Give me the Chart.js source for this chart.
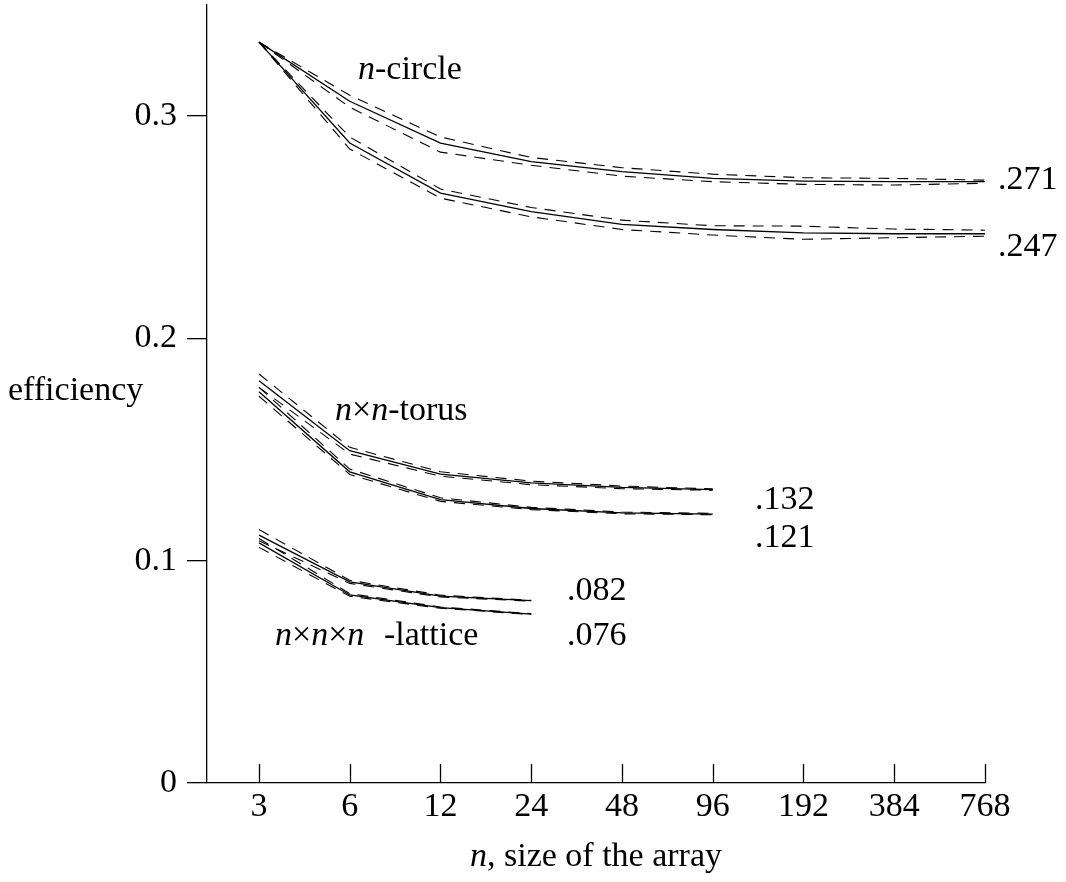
<!DOCTYPE html>
<html><head><meta charset="utf-8">
<script src="https://cdn.jsdelivr.net/npm/chart.js@4"></script>
<style>html,body{margin:0;padding:0;background:#fff}</style>
</head><body>
<canvas id="c" width="1066" height="882"></canvas>
<script>
// ---- data ----
const sizes = ['3','6','12','24','48','96','192','384','768'];
const yTicks = [0, 0.1, 0.2, 0.3];

const circleA   = [0.3333, 0.3067, 0.2879, 0.2795, 0.2750, 0.2720, 0.2708, 0.2705, 0.2705];
const circleAHi = [0.3333, 0.3094, 0.2906, 0.2814, 0.2768, 0.2739, 0.2723, 0.2720, 0.2712];
const circleALo = [0.3333, 0.3040, 0.2838, 0.2779, 0.2730, 0.2705, 0.2693, 0.2690, 0.2698];
const circleB   = [0.3333, 0.2879, 0.2654, 0.2570, 0.2513, 0.2490, 0.2475, 0.2471, 0.2471];
const circleBHi = [0.3333, 0.2906, 0.2672, 0.2589, 0.2532, 0.2507, 0.2505, 0.2492, 0.2487];
const circleBLo = [0.3333, 0.2852, 0.2631, 0.2547, 0.2490, 0.2465, 0.2446, 0.2453, 0.2460];

const torusA   = [0.1810, 0.1495, 0.1390, 0.1350, 0.1330, 0.1320];
const torusAHi = [0.1840, 0.1510, 0.1400, 0.1358, 0.1336, 0.1323];
const torusALo = [0.1780, 0.1480, 0.1380, 0.1342, 0.1324, 0.1317];
const torusB   = [0.1760, 0.1400, 0.1275, 0.1235, 0.1215, 0.1210];
const torusBHi = [0.1780, 0.1412, 0.1283, 0.1240, 0.1219, 0.1213];
const torusBLo = [0.1740, 0.1388, 0.1267, 0.1230, 0.1211, 0.1207];

const latticeA   = [0.1115, 0.0905, 0.0841, 0.0820];
const latticeAHi = [0.1140, 0.0912, 0.0845, 0.0822];
const latticeALo = [0.1090, 0.0898, 0.0837, 0.0818];
const latticeB   = [0.1080, 0.0846, 0.0789, 0.0760];
const latticeBHi = [0.1100, 0.0852, 0.0792, 0.0762];
const latticeBLo = [0.1060, 0.0840, 0.0786, 0.0758];

// ---- chart ----
const FONT = "'Liberation Serif', 'Times New Roman', serif";
const toPts = arr => arr.map((v, i) => ({x: i, y: v}));
function solid(arr){ return {data: toPts(arr), borderColor:'#000', borderWidth:1.3, pointRadius:0, fill:false, tension:0}; }
function dashed(arr){ return {data: toPts(arr), borderColor:'#000', borderWidth:1.1, borderDash:[11,8], pointRadius:0, fill:false, tension:0}; }

const datasets = [];
[[circleA,circleAHi,circleALo],[circleB,circleBHi,circleBLo],
 [torusA,torusAHi,torusALo],[torusB,torusBHi,torusBLo],
 [latticeA,latticeAHi,latticeALo],[latticeB,latticeBHi,latticeBLo]].forEach(([s,h,l])=>{
  datasets.push(solid(s), dashed(h), dashed(l));
});

function drawRuns(ctx, x, y, runs, size, align){
  let total = 0;
  const widths = runs.map(([t, it]) => { ctx.font = (it ? 'italic ' : '') + size + 'px ' + FONT; const w = ctx.measureText(t).width; total += w; return w; });
  let cx = align === 'center' ? x - total/2 : x;
  runs.forEach(([t, it], i) => { ctx.font = (it ? 'italic ' : '') + size + 'px ' + FONT; ctx.fillText(t, cx, y); cx += widths[i]; });
}

const textPlugin = {
  id: 'texts',
  afterDraw(chart){
    const ctx = chart.ctx;
    const xs = chart.scales.x;
    const area = chart.chartArea;
    ctx.save();
    ctx.strokeStyle = '#000'; ctx.lineWidth = 1.3;
    sizes.forEach((_, i) => {
      const px = Math.round(xs.getPixelForValue(i)) + 0.5;
      ctx.beginPath(); ctx.moveTo(px, area.bottom); ctx.lineTo(px, area.bottom - 19); ctx.stroke();
    });
    ctx.fillStyle = '#000'; ctx.textBaseline = 'alphabetic'; ctx.textAlign = 'left';
    const S = 34;
    drawRuns(ctx, 358, 79, [['n', true], ['-circle', false]], S);
    drawRuns(ctx, 335, 420, [['n', true], ['\u00d7', false], ['n', true], ['-torus', false]], S);
    drawRuns(ctx, 275, 645, [['n', true], ['\u00d7', false], ['n', true], ['\u00d7', false], ['n', true]], S);
    drawRuns(ctx, 384, 645, [['-lattice', false]], S);
    drawRuns(ctx, 998, 189, [['.271', false]], S);
    drawRuns(ctx, 998, 256, [['.247', false]], S);
    drawRuns(ctx, 755, 509, [['.132', false]], S);
    drawRuns(ctx, 755, 547, [['.121', false]], S);
    drawRuns(ctx, 567, 600, [['.082', false]], S);
    drawRuns(ctx, 567, 645, [['.076', false]], S);
    drawRuns(ctx, 8, 400, [['efficiency', false]], S);
    drawRuns(ctx, (area.left + area.right)/2, 866, [['n', true], [', size of the array', false]], S, 'center');
    ctx.restore();
  }
};

new Chart(document.getElementById('c'), {
  type: 'line',
  data: { datasets },
  options: {
    responsive: false,
    animation: false,
    devicePixelRatio: 1,
    layout: { padding: { top: 5, right: 81, left: 0, bottom: 0 } },
    plugins: { legend: { display: false }, tooltip: { enabled: false } },
    scales: {
      x: {
        type: 'linear', min: -0.573, max: 8,
        afterBuildTicks: s => { s.ticks = sizes.map((_, i) => ({ value: i })); },
        afterFit: s => { s.height = 99; s.paddingLeft = 0; s.paddingRight = 0; },
        ticks: { callback: v => sizes[v], color: '#000', font: { family: FONT, size: 34 }, padding: 4, maxRotation: 0, autoSkip: false },
        grid: { display: false, drawTicks: false },
        border: { display: true, color: '#000', width: 1.3 }
      },
      y: {
        min: 0, max: 0.35,
        afterBuildTicks: s => { s.ticks = yTicks.map(v => ({ value: v })); },
        afterFit: s => { s.width = 207; s.paddingTop = 0; s.paddingBottom = 0; },
        ticks: { callback: v => v === 0 ? '0' : v.toFixed(1), color: '#000', font: { family: FONT, size: 34 }, padding: 10 },
        grid: { drawOnChartArea: false, drawTicks: true, tickLength: 20, color: '#000', lineWidth: 1.3 },
        border: { display: true, color: '#000', width: 1.3 }
      }
    }
  },
  plugins: [textPlugin]
});
</script>
</body></html>
